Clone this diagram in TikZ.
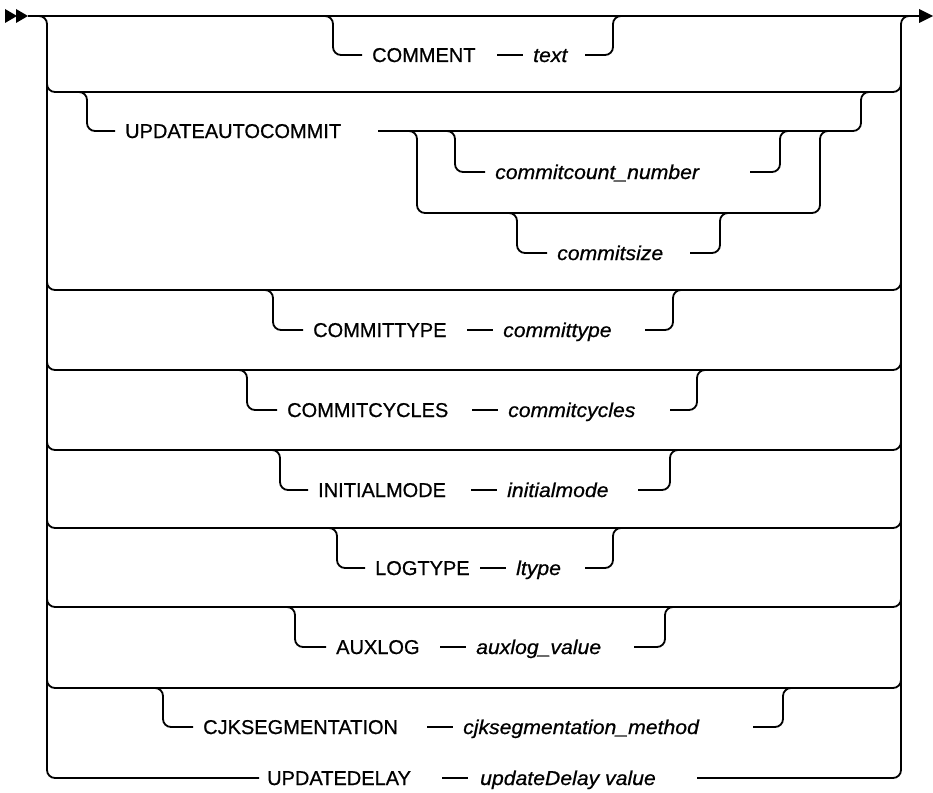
\documentclass[tikz,border=0pt]{standalone}
\usepackage{fontspec}
\setmainfont{Liberation Sans}[FakeBold=0.7]
\newfontfamily\varfont{Liberation Sans}[FakeStretch=1.06,FakeBold=0.7]
\begin{document}
\begin{tikzpicture}[x=1pt,y=-1pt,
  rail/.style={line width=1.8pt, rounded corners=8pt},
  kwd/.style={anchor=west, inner sep=0pt, text height=14pt, text depth=0pt,
    font=\fontsize{20}{24}\selectfont},
  var/.style={kwd, font={\varfont\itshape\fontsize{20}{24}\selectfont}},
  gapline/.style={line width=1.8pt},
  tip/.style={fill=black}]
\useasboundingbox (0,0) rectangle (933,792);

% entry and exit arrowheads with the main line
\coordinate (start) at (28,16);
\coordinate (end) at (920,16);
\fill[tip] (5,9) -- (17,16) -- (5,23) -- cycle;
\fill[tip] (16,9) -- (28,16) -- (16,23) -- cycle;
\fill[tip] (919,9) -- (933,16) -- (919,23) -- cycle;
\draw[gapline] (start) -- (end);

% alternative rows hanging between the left and right rails
\foreach \ry in {92,290,370,450,528,607,688}
  \draw[rail] (47,\ry-14) -- (47,\ry) -- (901,\ry) -- (901,\ry-14);

% optional keyword / value pairs
\foreach \id/\ry/\ty/\dx/\rx/\kx/\vx/\sx/\kw/\vr in {
  A/16/55/333/613/372/533/585/COMMENT/text,
  C/290/330/273/673/313/503/645/COMMITTYPE/committype,
  D/370/410/247/697/287/508/670/COMMITCYCLES/commitcycles,
  E/450/490/280/670/318/507/638/INITIALMODE/initialmode,
  F/528/568/337/613/375/516/585/LOGTYPE/ltype,
  G/607/647/295/665/336/476/634/AUXLOG/{auxlog\_value},
  H/688/727/163/783/203/463/753/CJKSEGMENTATION/{cjksegmentation\_method}}
{
  \node[kwd] (kw\id) at (\kx,\ty) {\kw};
  \node[var] (var\id) at (\vx,\ty) {\vr};
  \coordinate (in\id) at (\dx-14,\ry);
  \coordinate (out\id) at (\sx,\ty);
  \draw[rail, shorten >=10pt] (in\id) -- (\dx,\ry) -- (\dx,\ty) -- (kw\id.west);
  \draw[gapline] ([xshift=-36pt]var\id.west) -- ([xshift=-10pt]var\id.west);
  \draw[rail] (out\id) -- (\rx,\ty) -- (\rx,\ry) -- (\rx+14,\ry);
}

% UPDATEAUTOCOMMIT with its nested choice
\node[kwd] (kwB) at (125,131) {UPDATEAUTOCOMMIT};
\coordinate (inB) at (73,92);
\coordinate (outB) at (378,131);
\draw[rail, shorten >=10pt] (inB) -- (87,92) -- (87,131) -- (kwB.west);
\draw[rail] (outB) -- (861,131) -- (861,92) -- (875,92);
\draw[rail] (403,131) -- (417,131) -- (417,213) -- (820,213) -- (820,131) -- (834,131);

\node[var] (varB1) at (495,172) {commitcount\_number};
\coordinate (outB1) at (750,172);
\draw[rail, shorten >=10pt] (441,131) -- (455,131) -- (455,172) -- (varB1.west);
\draw[rail] (outB1) -- (780,172) -- (780,131) -- (794,131);

\node[var] (varB2) at (557,253) {commitsize};
\coordinate (outB2) at (690,253);
\draw[rail, shorten >=10pt] (503,213) -- (517,213) -- (517,253) -- (varB2.west);
\draw[rail] (outB2) -- (720,253) -- (720,213) -- (734,213);

% last row runs along the bottom of the rails
\node[kwd] (kwI) at (267,778) {UPDATEDELAY};
\node[var] (varI) at (480,778) {updateDelay value};
\coordinate (outI) at (697,778);
\draw[gapline] ([xshift=-38pt]varI.west) -- ([xshift=-12pt]varI.west);
\draw[rail, shorten >=8pt] (33,16) -- (47,16) -- (47,778) -- (kwI.west);
\draw[rail] (outI) -- (901,778) -- (901,16) -- (915,16);
\end{tikzpicture}
\end{document}
